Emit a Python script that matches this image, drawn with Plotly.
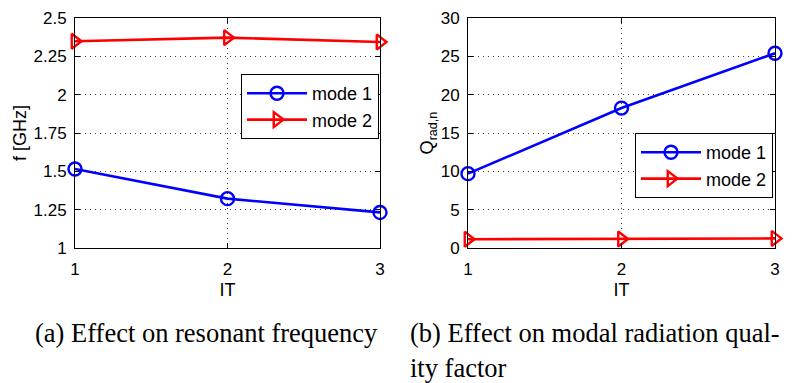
import plotly.graph_objects as go

# Iteration index
it = [1, 2, 3]

# Resonant frequency [GHz]
freq_mode1 = [1.515, 1.322, 1.232]
freq_mode2 = [2.348, 2.372, 2.343]

# Modal radiation quality factor
q_mode1 = [9.7, 18.25, 25.4]
q_mode2 = [1.15, 1.18, 1.25]

series_names = ["mode 1", "mode 2"]
blue = "#0000ff"
red = "#ff0000"

W, H = 794, 383
sans = "Liberation Sans, Arial, sans-serif"
tick_font = dict(family=sans, size=17, color="black")
title_font = dict(family=sans, size=18, color="black")

fig = go.Figure()

def add_series(x, y, name, color, symbol, xa, ya, legend):
    fig.add_trace(go.Scatter(
        x=x, y=y, name=name, mode="lines+markers",
        line=dict(color=color, width=2.6),
        marker=dict(symbol=symbol, size=13, color=color,
                    line=dict(color=color, width=2.4)),
        xaxis=xa, yaxis=ya, legend=legend, cliponaxis=False,
    ))

add_series(it, freq_mode1, series_names[0], blue, "circle-open", "x", "y", "legend")
add_series(it, freq_mode2, series_names[1], red, "triangle-right-open", "x", "y", "legend")
add_series(it, q_mode1, series_names[0], blue, "circle-open", "x2", "y2", "legend2")
add_series(it, q_mode2, series_names[1], red, "triangle-right-open", "x2", "y2", "legend2")

y_dom = [1 - 248 / H, 1 - 18 / H]

axis_common = dict(
    showline=True, linecolor="black", linewidth=1, mirror="allticks",
    ticks="inside", ticklen=5, tickcolor="black", automargin=False,
    showgrid=True, gridcolor="rgba(0,0,0,0.75)", griddash="1px,4px", gridwidth=1,
    zeroline=False, tickfont=tick_font,
)
x_common = dict(range=[1, 3], tickvals=it, ticklabelstandoff=6,
                title=dict(text="IT", font=title_font, standoff=4))

legend_common = dict(xanchor="right", yanchor="top",
                     bgcolor="white", bordercolor="black", borderwidth=1,
                     font=dict(family=sans, size=18, color="black"),
                     itemwidth=60, tracegroupgap=0)

fig.update_layout(
    width=W, height=H,
    margin=dict(l=0, r=0, t=0, b=0),
    paper_bgcolor="white", plot_bgcolor="white",
    xaxis=dict(domain=[75 / W, 380 / W], anchor="y", **x_common, **axis_common),
    yaxis=dict(domain=y_dom, range=[1, 2.5], ticklabelstandoff=4,
               tickvals=[1, 1.25, 1.5, 1.75, 2, 2.25, 2.5],
               ticktext=["1", "1.25", "1.5", "1.75", "2", "2.25", "2.5"],
               title=dict(text="f [GHz]", font=title_font, standoff=2), anchor="x", **axis_common),
    xaxis2=dict(domain=[468 / W, 775 / W], anchor="y2", **x_common, **axis_common),
    yaxis2=dict(domain=y_dom, range=[0, 30], tickvals=[0, 5, 10, 15, 20, 25, 30],
                ticklabelstandoff=4,
                title=dict(text="Q<sub>rad,n</sub>", font=title_font, standoff=2),
                anchor="x2", **axis_common),
    legend=dict(x=379 / W, y=1 - 74 / H, **legend_common),
    legend2=dict(x=773 / W, y=1 - 133 / H, **legend_common),
    showlegend=True,
)

cap_font = dict(family="Liberation Serif, DejaVu Serif, serif", size=26.5, color="black")
fig.add_annotation(text="(a) Effect on resonant frequency", x=33 / W, y=1 - 333 / H,
                   xref="paper", yref="paper", xanchor="left", yanchor="middle",
                   showarrow=False, font=cap_font)
fig.add_annotation(text="(b) Effect on modal radiation qual-", x=408 / W, y=1 - 333 / H,
                   xref="paper", yref="paper", xanchor="left", yanchor="middle",
                   showarrow=False, font=cap_font)
fig.add_annotation(text="ity factor", x=408 / W, y=1 - 368 / H,
                   xref="paper", yref="paper", xanchor="left", yanchor="middle",
                   showarrow=False, font=cap_font)

fig.write_html("out.html")
